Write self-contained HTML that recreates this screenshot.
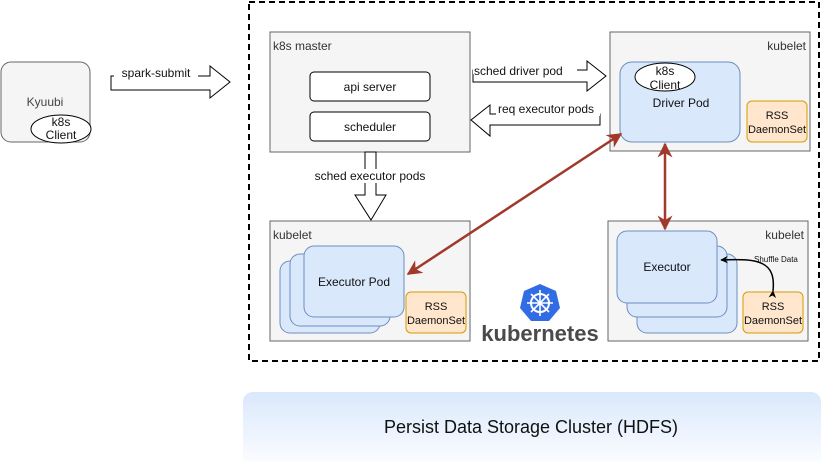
<!DOCTYPE html>
<html><head><meta charset="utf-8"><style>
html,body{margin:0;padding:0;background:#fff}
svg text{font-family:"Liberation Sans",sans-serif;fill:#111}
</style></head><body>
<svg width="822" height="462" viewBox="0 0 822 462" xmlns="http://www.w3.org/2000/svg">
<defs>
<linearGradient id="g" x1="0" y1="0" x2="0" y2="1"><stop offset="0" stop-color="#dae8fc"/><stop offset="1" stop-color="#fff"/></linearGradient>
<marker id="ar" viewBox="0 0 10 10" refX="9" refY="5" markerWidth="6" markerHeight="6" orient="auto-start-reverse"><path d="M0,0 L10,5 L0,10 L3,5 z" fill="#a0392c"/></marker>
<marker id="bk" viewBox="0 0 10 10" refX="9" refY="5" markerWidth="5" markerHeight="5" orient="auto"><path d="M0,0 L10,5 L0,10 L3,5 z" fill="#000"/></marker>
</defs>
<rect x="249" y="2" width="570" height="359" fill="none" stroke="#000" stroke-width="2" stroke-dasharray="6,4"/>
<rect x="1" y="62" width="89" height="80" rx="10" fill="#f5f5f5" stroke="#666"/>
<text x="45" y="106" font-size="12" text-anchor="middle" style="fill:#444">Kyuubi</text>
<ellipse cx="61" cy="129" rx="30" ry="14" fill="#fff" stroke="#000"/>
<text x="61" y="126" font-size="12" text-anchor="middle">k8s</text>
<text x="61" y="139" font-size="12" text-anchor="middle">Client</text>
<path d="M111,76 H210 V66 L230,82 L210,98 V90 H111 Z" fill="#fff" stroke="#000"/>
<rect x="114" y="66" width="84" height="12" fill="#fff"/>
<text x="156" y="77" font-size="12" text-anchor="middle">spark-submit</text>
<rect x="270" y="32" width="200" height="120" fill="#f5f5f5" stroke="#666"/>
<text x="273" y="50" font-size="12" style="fill:#333">k8s master</text>
<rect x="310" y="72" width="120" height="29" rx="4" fill="#fff" stroke="#000"/>
<text x="370" y="91" font-size="12" text-anchor="middle">api server</text>
<rect x="310" y="112" width="120" height="29" rx="4" fill="#fff" stroke="#000"/>
<text x="370" y="131" font-size="12" text-anchor="middle">scheduler</text>
<path d="M473,70 H587 V61 L606,76 L587,91 V82 H473 Z" fill="#fff" stroke="#000"/>
<rect x="473" y="62" width="104" height="12" fill="#fff"/>
<text x="474" y="75" font-size="12">sched driver pod</text>
<path d="M600,125 H490 V136 L471,120 L490,105 V114 H600 Z" fill="#fff" stroke="#000"/>
<rect x="496" y="102" width="104" height="14" fill="#fff"/>
<text x="498" y="113" font-size="12">req executor pods</text>
<path d="M365,152 H376 V195 H386 L371,220 L355,195 H365 Z" fill="#fff" stroke="#000"/>
<rect x="305" y="169" width="130" height="14" fill="#fff"/>
<text x="370" y="180" font-size="12" text-anchor="middle">sched executor pods</text>
<rect x="610" y="32" width="200" height="119" fill="#f5f5f5" stroke="#666"/>
<text x="806" y="50" font-size="12" text-anchor="end" style="fill:#333">kubelet</text>
<rect x="620" y="62" width="120" height="80" rx="12" fill="#dae8fc" stroke="#6c8ebf"/>
<ellipse cx="665" cy="77" rx="30" ry="14" fill="#fff" stroke="#000"/>
<text x="665" y="75" font-size="12" text-anchor="middle">k8s</text>
<text x="665" y="89" font-size="12" text-anchor="middle">Client</text>
<text x="681" y="107" font-size="12" text-anchor="middle">Driver Pod</text>
<rect x="747" y="101" width="60" height="41" rx="5" fill="#ffe6cc" stroke="#d79b00"/>
<text x="777" y="119" font-size="11" text-anchor="middle">RSS</text>
<text x="777" y="133" font-size="11" text-anchor="middle">DaemonSet</text>
<rect x="270" y="221" width="200" height="120" fill="#f5f5f5" stroke="#666"/>
<text x="273" y="239" font-size="12" style="fill:#333">kubelet</text>
<rect x="280" y="261" width="100" height="72" rx="10" fill="#dae8fc" stroke="#6c8ebf"/>
<rect x="290" y="254" width="100" height="72" rx="10" fill="#dae8fc" stroke="#6c8ebf"/>
<rect x="304" y="246" width="100" height="71" rx="10" fill="#dae8fc" stroke="#6c8ebf"/>
<text x="354" y="286" font-size="12" text-anchor="middle">Executor Pod</text>
<rect x="406" y="292" width="60" height="41" rx="5" fill="#ffe6cc" stroke="#d79b00"/>
<text x="436" y="310" font-size="11" text-anchor="middle">RSS</text>
<text x="436" y="324" font-size="11" text-anchor="middle">DaemonSet</text>
<rect x="608" y="221" width="200" height="120" fill="#f5f5f5" stroke="#666"/>
<text x="804" y="239" font-size="12" text-anchor="end" style="fill:#333">kubelet</text>
<rect x="637" y="254" width="100" height="79" rx="10" fill="#dae8fc" stroke="#6c8ebf"/>
<rect x="627" y="246" width="100" height="71" rx="10" fill="#dae8fc" stroke="#6c8ebf"/>
<rect x="617" y="231" width="100" height="72" rx="10" fill="#dae8fc" stroke="#6c8ebf"/>
<text x="667" y="271" font-size="12" text-anchor="middle">Executor</text>
<rect x="743" y="292" width="60" height="41" rx="5" fill="#ffe6cc" stroke="#d79b00"/>
<text x="773" y="310" font-size="11" text-anchor="middle">RSS</text>
<text x="773" y="324" font-size="11" text-anchor="middle">DaemonSet</text>
<text x="754" y="262" font-size="8">Shuffle Data</text>
<path d="M773,291 C776,262 760,258 721,260" fill="none" stroke="#000" stroke-width="1.5" marker-end="url(#bk)" marker-start="url(#bk)"/>
<line x1="621" y1="134" x2="408" y2="274" stroke="#a0392c" stroke-width="2.5" marker-start="url(#ar)" marker-end="url(#ar)"/>
<line x1="665" y1="144" x2="665" y2="229" stroke="#a0392c" stroke-width="2.5" marker-start="url(#ar)" marker-end="url(#ar)"/>
<polygon points="540,284 556,291 560,308 549,321 531,321 520,308 524,291" fill="#326ce5"/>
<circle cx="540" cy="303" r="9" fill="none" stroke="#fff" stroke-width="2"/>
<g stroke="#fff" stroke-width="1.6"><line x1="540" y1="290" x2="540" y2="316"/><line x1="527" y1="303" x2="553" y2="303"/><line x1="531" y1="294" x2="549" y2="312"/><line x1="549" y1="294" x2="531" y2="312"/></g>
<text x="540" y="341" font-size="22" font-weight="bold" text-anchor="middle" style="fill:#4a4a4a">kubernetes</text>
<rect x="243" y="392" width="578" height="80" rx="10" fill="url(#g)"/>
<text x="531" y="433" font-size="18" text-anchor="middle">Persist Data Storage Cluster (HDFS)</text>
</svg>
</body></html>
